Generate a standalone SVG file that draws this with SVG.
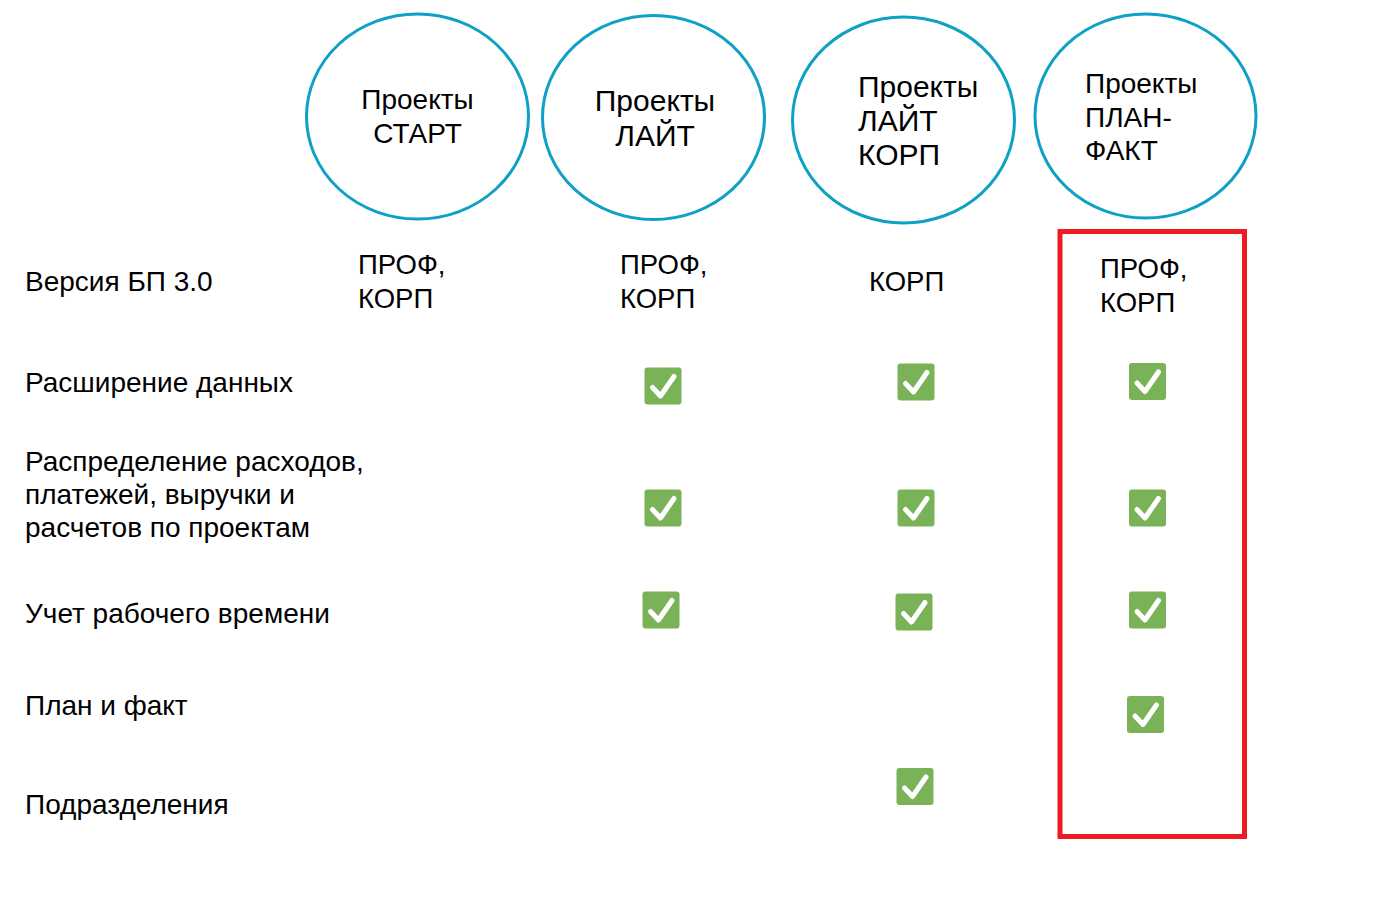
<svg xmlns="http://www.w3.org/2000/svg" width="1400" height="900" viewBox="0 0 1400 900">
<defs>
<style>
.t{font-family:"Liberation Sans",Arial,sans-serif;fill:#000;}
.l{font-size:28px;}
.v{font-size:27.5px;}
.c28{font-size:28px;}
.c30{font-size:30px;}
.ring{fill:#fff;stroke:#0FA1C5;stroke-width:3;}
.box{fill:#79B257;}
.tick{fill:none;stroke:#fff;stroke-width:5;stroke-linecap:round;stroke-linejoin:round;}
</style>
<g id="chk">
<rect class="box" x="0" y="0" width="37" height="37" rx="3"/>
<polyline class="tick" points="8,20 16,28.5 29.5,9"/>
</g>
</defs>
<rect width="1400" height="900" fill="#fff"/>

<g id="node-start">
<ellipse class="ring" cx="417.5" cy="116.5" rx="111" ry="102.5"/>
<text class="t c28" text-anchor="middle" x="417.5" y="109">Проекты</text>
<text class="t c28" text-anchor="middle" x="417.5" y="143">СТАРТ</text>
</g>
<g id="node-lite">
<ellipse class="ring" cx="653.5" cy="117.5" rx="111" ry="102"/>
<text class="t c30" text-anchor="middle" x="655" y="111">Проекты</text>
<text class="t c30" text-anchor="middle" x="655" y="146">ЛАЙТ</text>
</g>
<g id="node-lite-korp">
<ellipse class="ring" cx="903.5" cy="120" rx="111" ry="103"/>
<text class="t c30" x="858" y="97">Проекты</text>
<text class="t c30" x="858" y="131">ЛАЙТ</text>
<text class="t c30" x="858" y="165">КОРП</text>
</g>
<g id="node-plan-fact">
<ellipse class="ring" cx="1145.5" cy="116" rx="110.5" ry="102"/>
<text class="t c28" x="1085" y="93">Проекты</text>
<text class="t c28" x="1085" y="127">ПЛАН-</text>
<text class="t c28" x="1085" y="160">ФАКТ</text>
</g>

<g id="row-labels">
<text class="t l" x="25" y="291">Версия БП 3.0</text>
<text class="t l" x="25" y="392">Расширение данных</text>
<text class="t l" x="25" y="471">Распределение расходов,</text>
<text class="t l" x="25" y="504">платежей, выручки и</text>
<text class="t l" x="25" y="537">расчетов по проектам</text>
<text class="t l" x="25" y="623">Учет рабочего времени</text>
<text class="t l" x="25" y="715">План и факт</text>
<text class="t l" x="25" y="814">Подразделения</text>
</g>

<g id="versions">
<text class="t v" x="358" y="274">ПРОФ,</text>
<text class="t v" x="358" y="308">КОРП</text>
<text class="t v" x="620" y="274">ПРОФ,</text>
<text class="t v" x="620" y="308">КОРП</text>
<text class="t v" x="869" y="291">КОРП</text>
<text class="t v" x="1100" y="278">ПРОФ,</text>
<text class="t v" x="1100" y="312">КОРП</text>
</g>

<g id="checks">
<use href="#chk" x="644.5" y="367.5"/>
<use href="#chk" x="897.5" y="363.5"/>
<use href="#chk" x="1129" y="363"/>
<use href="#chk" x="644.5" y="489.5"/>
<use href="#chk" x="897.5" y="489.5"/>
<use href="#chk" x="1129" y="489.5"/>
<use href="#chk" x="642.5" y="591.5"/>
<use href="#chk" x="895.5" y="593.5"/>
<use href="#chk" x="1129" y="591.5"/>
<use href="#chk" x="1127" y="696"/>
<use href="#chk" x="896.5" y="768"/>
</g>

<g id="highlight">
<rect x="1060" y="231.5" width="184.5" height="605" fill="none" stroke="#ED1C24" stroke-width="5"/>
</g>
</svg>
